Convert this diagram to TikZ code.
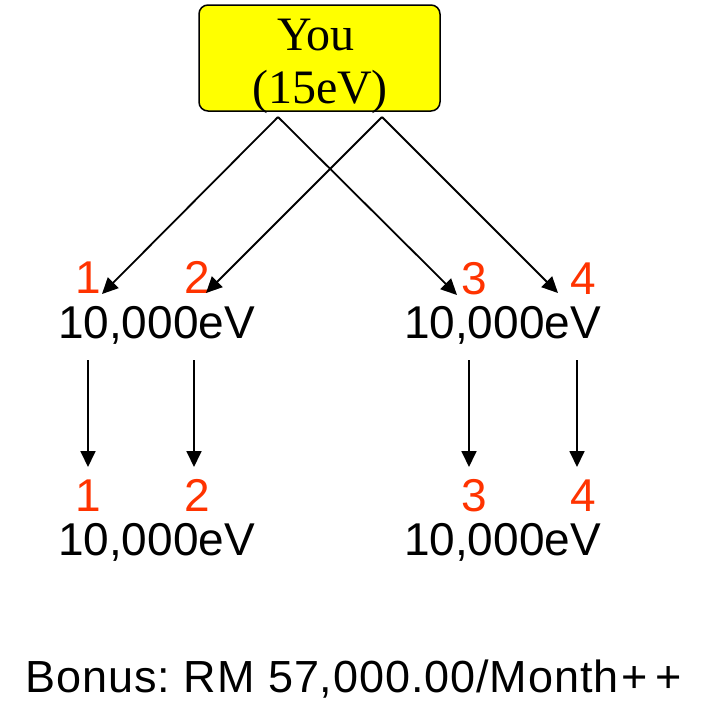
\documentclass[tikz,border=0pt]{standalone}
\usepackage{fontspec}
\setmainfont{Liberation Serif}
\newfontfamily\arialf{Liberation Sans}
\newfontfamily\arialsp[LetterSpace=2.0]{Liberation Sans}
\usetikzlibrary{arrows.meta}
\definecolor{numred}{RGB}{255,51,0}
\definecolor{boxyellow}{RGB}{255,255,0}
\tikzset{
  youbox/.style={draw=black, line width=1.5pt, fill=boxyellow, rounded corners=9pt,
    minimum width=241pt, minimum height=106pt, inner sep=0pt},
  serifbig/.style={font=\fontsize{48}{53}\selectfont, inner sep=0pt, anchor=base},
  numlbl/.style={font=\arialf\fontsize{46}{50}\selectfont, text=numred, inner sep=0pt, anchor=base},
  evlbl/.style={font=\arialf\fontsize{46}{50}\selectfont, inner sep=0pt, anchor=base},
  bonuslbl/.style={font=\arialsp\fontsize{45}{50}\selectfont, inner sep=0pt, anchor=base},
  conn/.style={line width=1.8pt, -{Triangle[length=16pt,width=15pt]}},
}
\begin{document}
\begin{tikzpicture}[x=1pt,y=-1pt]
\useasboundingbox (0,0) rectangle (702,705);
% top box
\node[youbox] (you) at (319.5,58) {};
\node[serifbig] (youa) at (316,50) {You};
\node[serifbig] (youb) at (320,103) {(15eV)};
\coordinate (s1) at (278,117);
\coordinate (s2) at (382,117);
% first row
\node[numlbl] (n1) at (88,293) {1};
\node[numlbl] (n2) at (197,293) {2};
\node[numlbl] (n3) at (474,294) {3};
\node[numlbl] (n4) at (583,294) {4};
\node[evlbl] (ev1) at (156.5,338) {10,000eV};
\node[evlbl] (ev2) at (502.5,338) {10,000eV};
\coordinate (t1) at (102,294);
\coordinate (t2) at (206,293);
\coordinate (t3) at (457,295);
\coordinate (t4) at (558,293);
\draw[conn] (s1) -- (t1);
\draw[conn] (s2) -- (t2);
\draw[conn] (s1) -- (t3);
\draw[conn] (s2) -- (t4);
% vertical arrows
\coordinate (v1a) at (88,360); \coordinate (v1b) at (88,467);
\coordinate (v2a) at (194,360); \coordinate (v2b) at (194,467);
\coordinate (v3a) at (469,360); \coordinate (v3b) at (469,467);
\coordinate (v4a) at (577,360); \coordinate (v4b) at (577,467);
\draw[conn] (v1a) -- (v1b);
\draw[conn] (v2a) -- (v2b);
\draw[conn] (v3a) -- (v3b);
\draw[conn] (v4a) -- (v4b);
% second row
\node[numlbl] (m1) at (88,511) {1};
\node[numlbl] (m2) at (197,511) {2};
\node[numlbl] (m3) at (474,511) {3};
\node[numlbl] (m4) at (583,511) {4};
\node[evlbl] (ew1) at (156.5,555) {10,000eV};
\node[evlbl] (ew2) at (502.5,555) {10,000eV};
% bonus
\node[bonuslbl] (bonus) at (354,692) {Bonus:\ RM 57,000.00/Month\kern3pt+\kern8pt+};
\end{tikzpicture}
\end{document}
